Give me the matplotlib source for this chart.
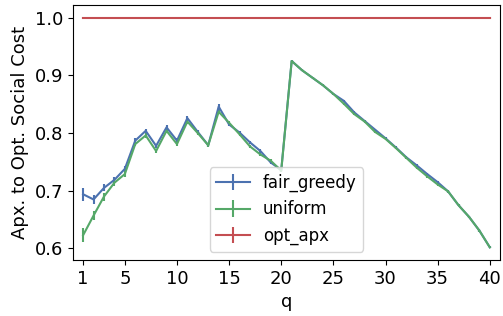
import numpy as np
import matplotlib
matplotlib.use("Agg")
import matplotlib.pyplot as plt

q = list(range(1, 41))

fair_greedy = [0.694, 0.685, 0.705, 0.719, 0.738, 0.787, 0.804, 0.778, 0.810, 0.787,
               0.826, 0.802, 0.779, 0.846, 0.815, 0.801, 0.784, 0.769, 0.749, 0.736,
               0.925, 0.909, 0.896, 0.883, 0.868, 0.856, 0.836, 0.821, 0.806, 0.791,
               0.775, 0.758, 0.744, 0.729, 0.715, 0.699, 0.675, 0.655, 0.631, 0.602]
uniform = [0.623, 0.657, 0.690, 0.714, 0.729, 0.781, 0.796, 0.769, 0.804, 0.781,
           0.820, 0.800, 0.779, 0.837, 0.818, 0.798, 0.777, 0.763, 0.752, 0.735,
           0.925, 0.909, 0.896, 0.883, 0.868, 0.851, 0.833, 0.820, 0.802, 0.790,
           0.774, 0.757, 0.740, 0.725, 0.711, 0.699, 0.675, 0.655, 0.631, 0.602]
opt_apx = [1.0] * 40

fair_greedy_err = [0.011, 0.008, 0.006, 0.005, 0.005, 0.004, 0.004, 0.004, 0.004, 0.004,
                   0.004, 0.003, 0.003, 0.004, 0.003, 0.003, 0.003, 0.003, 0.003, 0.003,
                   0.002, 0.002, 0.002, 0.002, 0.002, 0.002, 0.002, 0.002, 0.002, 0.002,
                   0.002, 0.002, 0.002, 0.002, 0.002, 0.002, 0.002, 0.002, 0.002, 0.002]
uniform_err = [0.012, 0.008, 0.007, 0.006, 0.005, 0.004, 0.004, 0.004, 0.004, 0.004,
               0.004, 0.003, 0.003, 0.004, 0.003, 0.003, 0.003, 0.003, 0.003, 0.003,
               0.002, 0.002, 0.002, 0.002, 0.002, 0.002, 0.002, 0.002, 0.002, 0.002,
               0.002, 0.002, 0.002, 0.002, 0.002, 0.002, 0.002, 0.002, 0.002, 0.002]
opt_apx_err = [0.002] * 40

plt.rcParams['font.size'] = 13

fig = plt.figure(figsize=(5.03, 3.16), dpi=100)
ax = fig.add_axes([0.1445, 0.177, 0.850, 0.807])

ax.errorbar(q, fair_greedy, yerr=fair_greedy_err, color='#4C72B0', label='fair_greedy')
ax.errorbar(q, uniform, yerr=uniform_err, color='#55A868', label='uniform')
ax.errorbar(q, opt_apx, yerr=opt_apx_err, color='#C44E52', label='opt_apx')

ax.set_xlim(0, 41)
ax.set_xticks([1, 5, 10, 15, 20, 25, 30, 35, 40])
ax.set_yticks([0.6, 0.7, 0.8, 0.9, 1.0])
ax.set_xlabel('q')
ax.set_ylabel('Apx. to Opt. Social Cost')
ax.legend(loc='lower center', fontsize=12)

fig.savefig('out.png', dpi=100)
